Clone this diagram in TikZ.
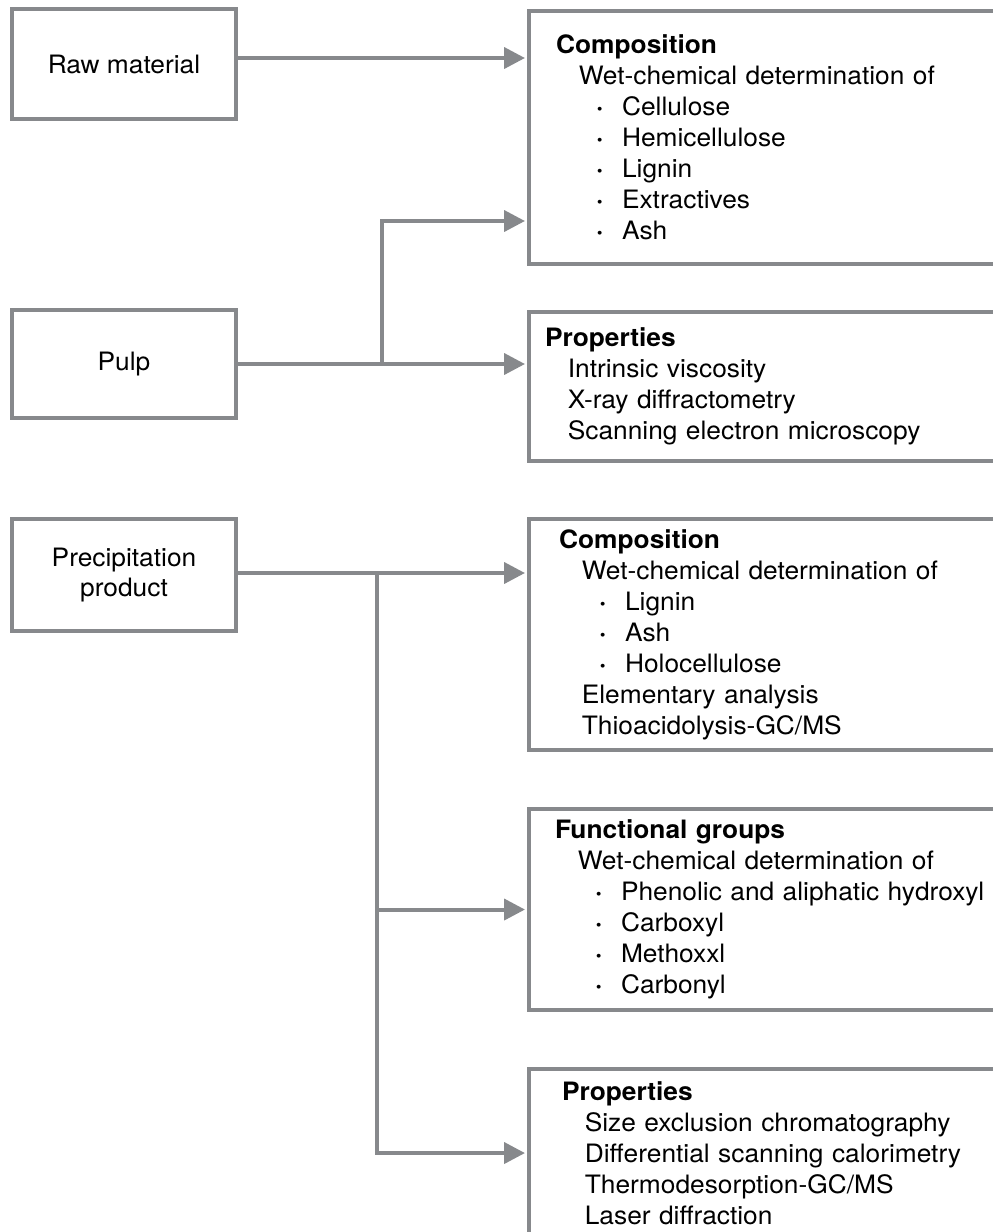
\documentclass[tikz,border=0pt]{standalone}
\usepackage{fontspec}
\setmainfont{TeX Gyre Heros}[FakeStretch=1.04]
\usepackage{xcolor}
\usepackage{tikz}
\usetikzlibrary{arrows.meta, positioning}

\definecolor{linegray}{RGB}{135,137,140}

% indented lines inside the result boxes
\newcommand{\subline}[1]{\hspace*{0.57cm}#1}
\newcommand{\dotitem}[1]{\hspace*{1.65cm}\llap{\makebox[0.65cm][l]{\textbf{·}}}#1}

\begin{document}
\begin{tikzpicture}[x=0.025cm, y=-0.025cm,
    font=\fontsize{18}{22}\selectfont,
    srcbox/.style={draw=linegray, line width=0.1cm, minimum width=5.575cm, align=center, inner sep=0pt},
    infobox/.style={draw=linegray, line width=0.1cm, anchor=north west, text width=11.5cm, align=left, inner ysep=0pt},
    wire/.style={draw=linegray, line width=0.1cm},
    link/.style={wire, -{Triangle[length=0.52cm, width=0.52cm]}, shorten >=0.05cm}]

    \useasboundingbox (0,0) rectangle (993,1232);
    \clip (0,0) rectangle (993,1232);

    % =================================================================
    % SAMPLES (left column)
    % =================================================================
    \node[srcbox, minimum height=2.75cm] (raw) at (124,64) {Raw material};
    \node[srcbox, minimum height=2.7cm] (pulp) at (124,364) {Pulp};
    \node[srcbox, minimum height=2.8cm] (prec) at (124,575) {Precipitation\\product};

    % =================================================================
    % ANALYSES (right column)
    % =================================================================
    \node[infobox, inner xsep=0.675cm, minimum height=6.325cm] (comp1) at (527,9) {%
        \textbf{Composition}\\
        \subline{Wet-chemical determination of}\\
        \dotitem{Cellulose}\\
        \dotitem{Hemicellulose}\\
        \dotitem{Lignin}\\
        \dotitem{Extractives}\\
        \dotitem{Ash}};

    \node[infobox, inner xsep=0.4cm, minimum height=3.725cm] (prop1) at (527,310) {%
        \textbf{Properties}\\
        \subline{Intrinsic viscosity}\\
        \subline{X-ray diffractometry}\\
        \subline{Scanning electron microscopy}};

    \node[infobox, inner xsep=0.75cm, minimum height=5.775cm] (comp2) at (527,517) {%
        \textbf{Composition}\\
        \subline{Wet-chemical determination of}\\
        \dotitem{Lignin}\\
        \dotitem{Ash}\\
        \dotitem{Holocellulose}\\
        \subline{Elementary analysis}\\
        \subline{Thioacidolysis-GC/MS}};

    \node[infobox, inner xsep=0.65cm, minimum height=5.025cm] (func) at (527,807) {%
        \textbf{Functional groups}\\
        \subline{Wet-chemical determination of}\\
        \dotitem{Phenolic and aliphatic hydroxyl}\\
        \dotitem{Carboxyl}\\
        \dotitem{Methoxxl}\\
        \dotitem{Carbonyl}};

    \node[infobox, inner xsep=0.825cm, minimum height=4.2cm] (prop2) at (527,1067) {%
        \textbf{Properties}\\
        \subline{Size exclusion chromatography}\\
        \subline{Differential scanning calorimetry}\\
        \subline{Thermodesorption-GC/MS}\\
        \subline{Laser diffraction}};

    % =================================================================
    % CONNECTORS
    % =================================================================
    \coordinate (pulpfork) at (382,364);
    \coordinate (precfork) at (377,573);

    \draw[link] (raw.east |- 0,58) -- (comp1.west |- 0,58);

    \draw[link] (pulp.east) -- (prop1.west |- pulp.east);
    \draw[link] (pulpfork) |- (comp1.west |- 0,221);

    \draw[link] (prec.east |- precfork) -- (comp2.west |- precfork);
    \draw[link] (precfork |- func.west) -- (func.west);
    \draw[link] (precfork) |- (prop2.west);

\end{tikzpicture}
\end{document}
